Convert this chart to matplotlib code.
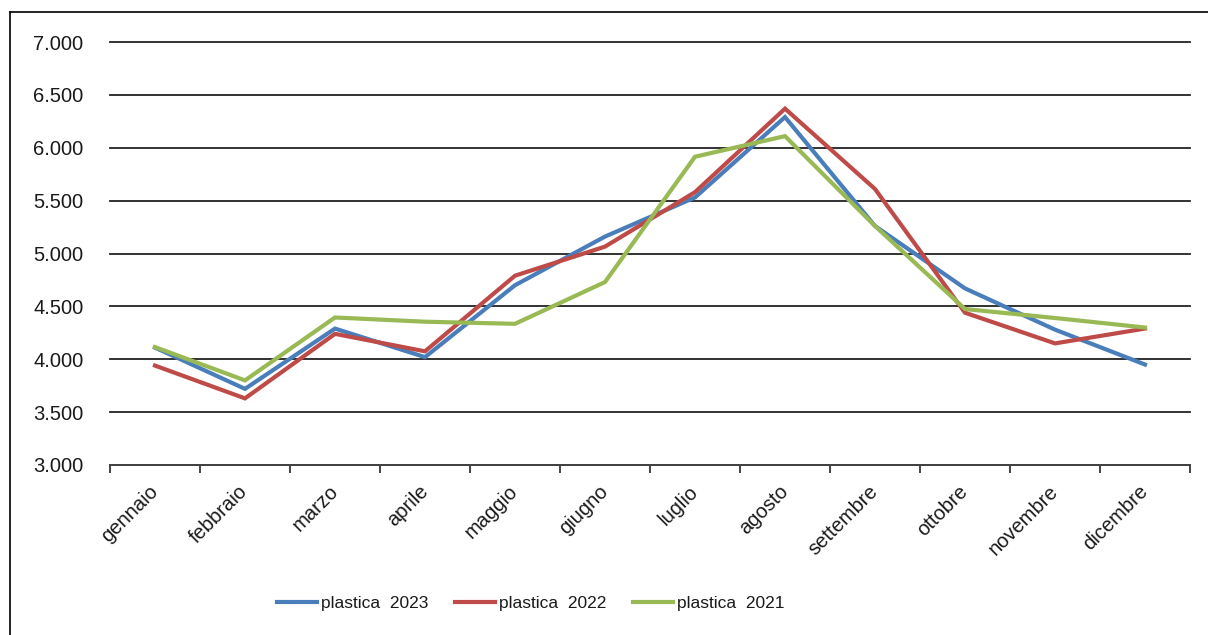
#!/usr/bin/env python3

import matplotlib
matplotlib.use('Agg')
from matplotlib import pyplot as plt
from matplotlib.lines import Line2D
from matplotlib.ticker import FuncFormatter, FixedLocator

mesi = ['gennaio', 'febbraio', 'marzo', 'aprile', 'maggio', 'giugno',
        'luglio', 'agosto', 'settembre', 'ottobre', 'novembre', 'dicembre']

plastica_2023 = [4110, 3720, 4290, 4020, 4700, 5160, 5530, 6290, 5260, 4670, 4280, 3950]
plastica_2022 = [3940, 3630, 4240, 4075, 4790, 5065, 5580, 6370, 5610, 4440, 4150, 4290]
plastica_2021 = [4115, 3800, 4395, 4355, 4335, 4730, 5915, 6110, 5260, 4475, 4390, 4300]

serie = [('plastica  2023', plastica_2023, '#4A7EBB'),
         ('plastica  2022', plastica_2022, '#BE4B48'),
         ('plastica  2021', plastica_2021, '#98B954')]

plt.rcParams['font.family'] = ['Liberation Sans', 'DejaVu Sans']

fig = plt.figure(figsize=(12.08, 6.35), dpi=100)
ax = fig.add_axes([110 / 1208, 1 - 465 / 635, 1080 / 1208, 423 / 635])

x = list(range(len(mesi)))
for nome, valori, colore in serie:
    ax.plot(x, valori, color=colore, lw=3.0, label=nome, solid_joinstyle='miter')

ax.set_xlim(-0.5, len(mesi) - 0.5)
ax.set_ylim(3000, 7000)
ax.set_yticks(range(3000, 7001, 500))
ax.yaxis.set_major_formatter(FuncFormatter(lambda v, p: f'{int(v):,}'.replace(',', '.')))
ax.grid(axis='y', color='#222222', lw=1.3)
for g in ax.get_ygridlines():
    g.set_clip_on(False)
ax.set_axisbelow(True)

for s in ['top', 'right', 'left']:
    ax.spines[s].set_visible(False)
ax.spines['bottom'].set_color('#444444')
ax.spines['bottom'].set_linewidth(1.4)

ax.set_xticks(x)
ax.set_xticklabels(mesi, rotation=45, ha='right', va='center', rotation_mode='anchor')
ax.xaxis.set_minor_locator(FixedLocator([i - 0.5 for i in range(len(mesi) + 1)]))
ax.tick_params(axis='x', which='major', length=0, pad=17, labelsize=14.5, colors='#1a1a1a')
ax.tick_params(axis='x', which='minor', length=6, width=1.4, color='#444444')
ax.tick_params(axis='y', length=0, pad=19, labelsize=14.5, colors='#1a1a1a')

leg = fig.legend(loc='center', bbox_to_anchor=(531 / 1208, 1 - 603 / 635), ncol=3,
                 frameon=False, fontsize=12.5,
                 handlelength=2.3, handletextpad=0.23, columnspacing=1.55)
for h in leg.get_lines():
    h.set_linewidth(3.0)
for t in leg.get_texts():
    t.set_color('#1a1a1a')

# cornice del grafico
fig.add_artist(Line2D([10 / 1208, 10 / 1208], [0, 1 - 12 / 635], transform=fig.transFigure,
                      color='black', lw=1.2))
fig.add_artist(Line2D([10 / 1208, 1], [1 - 12 / 635, 1 - 12 / 635], transform=fig.transFigure,
                      color='black', lw=1.2))

fig.savefig('out.png', dpi=100)
